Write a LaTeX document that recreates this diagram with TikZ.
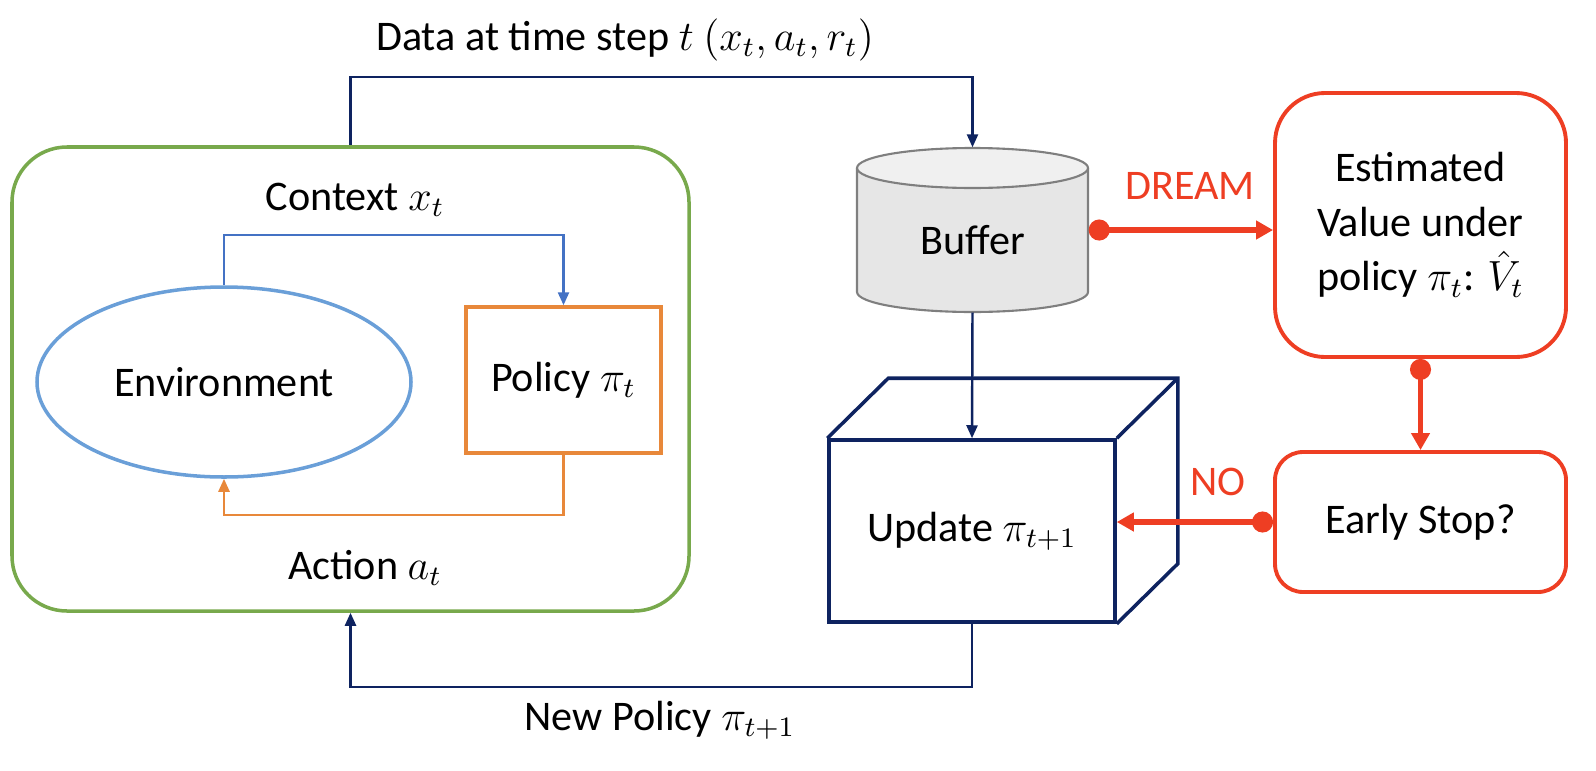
\documentclass[tikz,border=0pt]{standalone}
\usepackage{fontspec}
\setmainfont{Carlito}
\usetikzlibrary{arrows.meta,calc,shapes.geometric}

\definecolor{envgreen}{HTML}{78A94C}
\definecolor{envblue}{HTML}{6A9FD8}
\definecolor{ctxblue}{HTML}{4472C4}
\definecolor{polorange}{HTML}{E8883A}
\definecolor{navy}{HTML}{0E2360}
\definecolor{dreamred}{HTML}{EE3E23}
\definecolor{bufgray}{HTML}{E6E6E6}
\definecolor{buftopgray}{HTML}{F0F0F0}
\definecolor{bufedge}{HTML}{7F7F7F}

\tikzset{
    thinarrow/.style={line width=0.7pt, -{Triangle[length=1.3mm,width=1.1mm]}},
    redarrow/.style={draw=dreamred, line width=1.5pt, {Circle[length=2.1mm]}-{Triangle[length=1.7mm,width=1.8mm]}},
    redbox/.style={draw=dreamred, line width=1.1pt, fill=white, align=center, minimum width=29.1mm}
}

\begin{document}
\begin{tikzpicture}[x=0.1mm, y=-0.1mm, font=\fontsize{12}{14.5}\selectfont]
        \useasboundingbox (0,0) rectangle (1596,770);

        % agent loop
        \node[draw=envgreen, line width=1pt, rounded corners=5.5mm, minimum width=67.7mm, minimum height=46.4mm] (agent) at (350.5,379) {};
        \node[ellipse, draw=envblue, line width=1pt, minimum width=37.4mm, minimum height=19mm] (env) at (224,382) {Environment};
        \node[draw=polorange, line width=1pt, minimum width=19.5mm, minimum height=14.6mm] (policy) at (563.5,380) {Policy $\pi_t$};
        \node (context) at (355,200) {Context $x_t$};
        \node (action) at (365,568) {Action $a_t$};

        \draw[thinarrow, ctxblue] (env.north) -- ++(0,-50) -| (policy.north);
        \draw[thinarrow, polorange] (policy.south) -- ++(0,60) -| (env.south);

        % buffer
        \node[minimum width=23.1mm, minimum height=16.4mm] (buffer) at (972.5,230) {};
        \path[fill=bufgray, draw=bufedge, line width=0.6pt] (857,168) -- (857,292)
            arc[start angle=180, end angle=0, x radius=115.5, y radius=20] -- (1088,168);
        \draw[fill=buftopgray, draw=bufedge, line width=0.6pt] (972.5,168) ellipse[x radius=115.5, y radius=20];
        \node (buflabel) at (972.5,240) {Buffer};

        % update cube
        \node[draw=navy, line width=1pt, minimum width=28.6mm, minimum height=18.2mm] (update) at (972,531) {Update $\pi_{t+1}$};
        \draw[navy, line width=1pt] (update.north west) -- ++(61,-60) -- ($(update.north east)+(61,-60)$)
            -- ($(update.south east)+(61,-60)$) -- (update.south east);
        \draw[navy, line width=1pt] (update.north east) -- ++(61,-60);

        % data flow
        \node (data) at (625,40) {Data at time step $t$ $(x_t, a_t, r_t)$};
        \draw[thinarrow, navy] (agent.north) -- ++(0,-68) -| (buffer.north);
        \draw[thinarrow, navy] (buffer.south) -- (update.north);
        \draw[thinarrow, navy] (update.south) -- ++(0,63) -| (agent.south);
        \node (newpolicy) at (660,720) {New Policy $\pi_{t+1}$};

        % DREAM
        \node[redbox, rounded corners=5mm, minimum height=26.4mm, font=\fontsize{12}{15.5}\selectfont] (est) at (1420.5,225) {Estimated\\Value under\\policy $\pi_t$: $\hat{V}_t$};
        \node[redbox, rounded corners=2.8mm, minimum height=14mm] (stop) at (1420.5,522) {Early Stop?};
        \node[text=dreamred] (dream) at (1190,186) {DREAM};
        \node[text=dreamred] (no) at (1218,482) {NO};

        \draw[redarrow] (buffer.east) -- (buffer.east -| est.west);
        \draw[redarrow] (est.south) -- (stop.north);
        \draw[redarrow] (stop.west) -- (stop.west -| update.east);
    \end{tikzpicture}
\end{document}
